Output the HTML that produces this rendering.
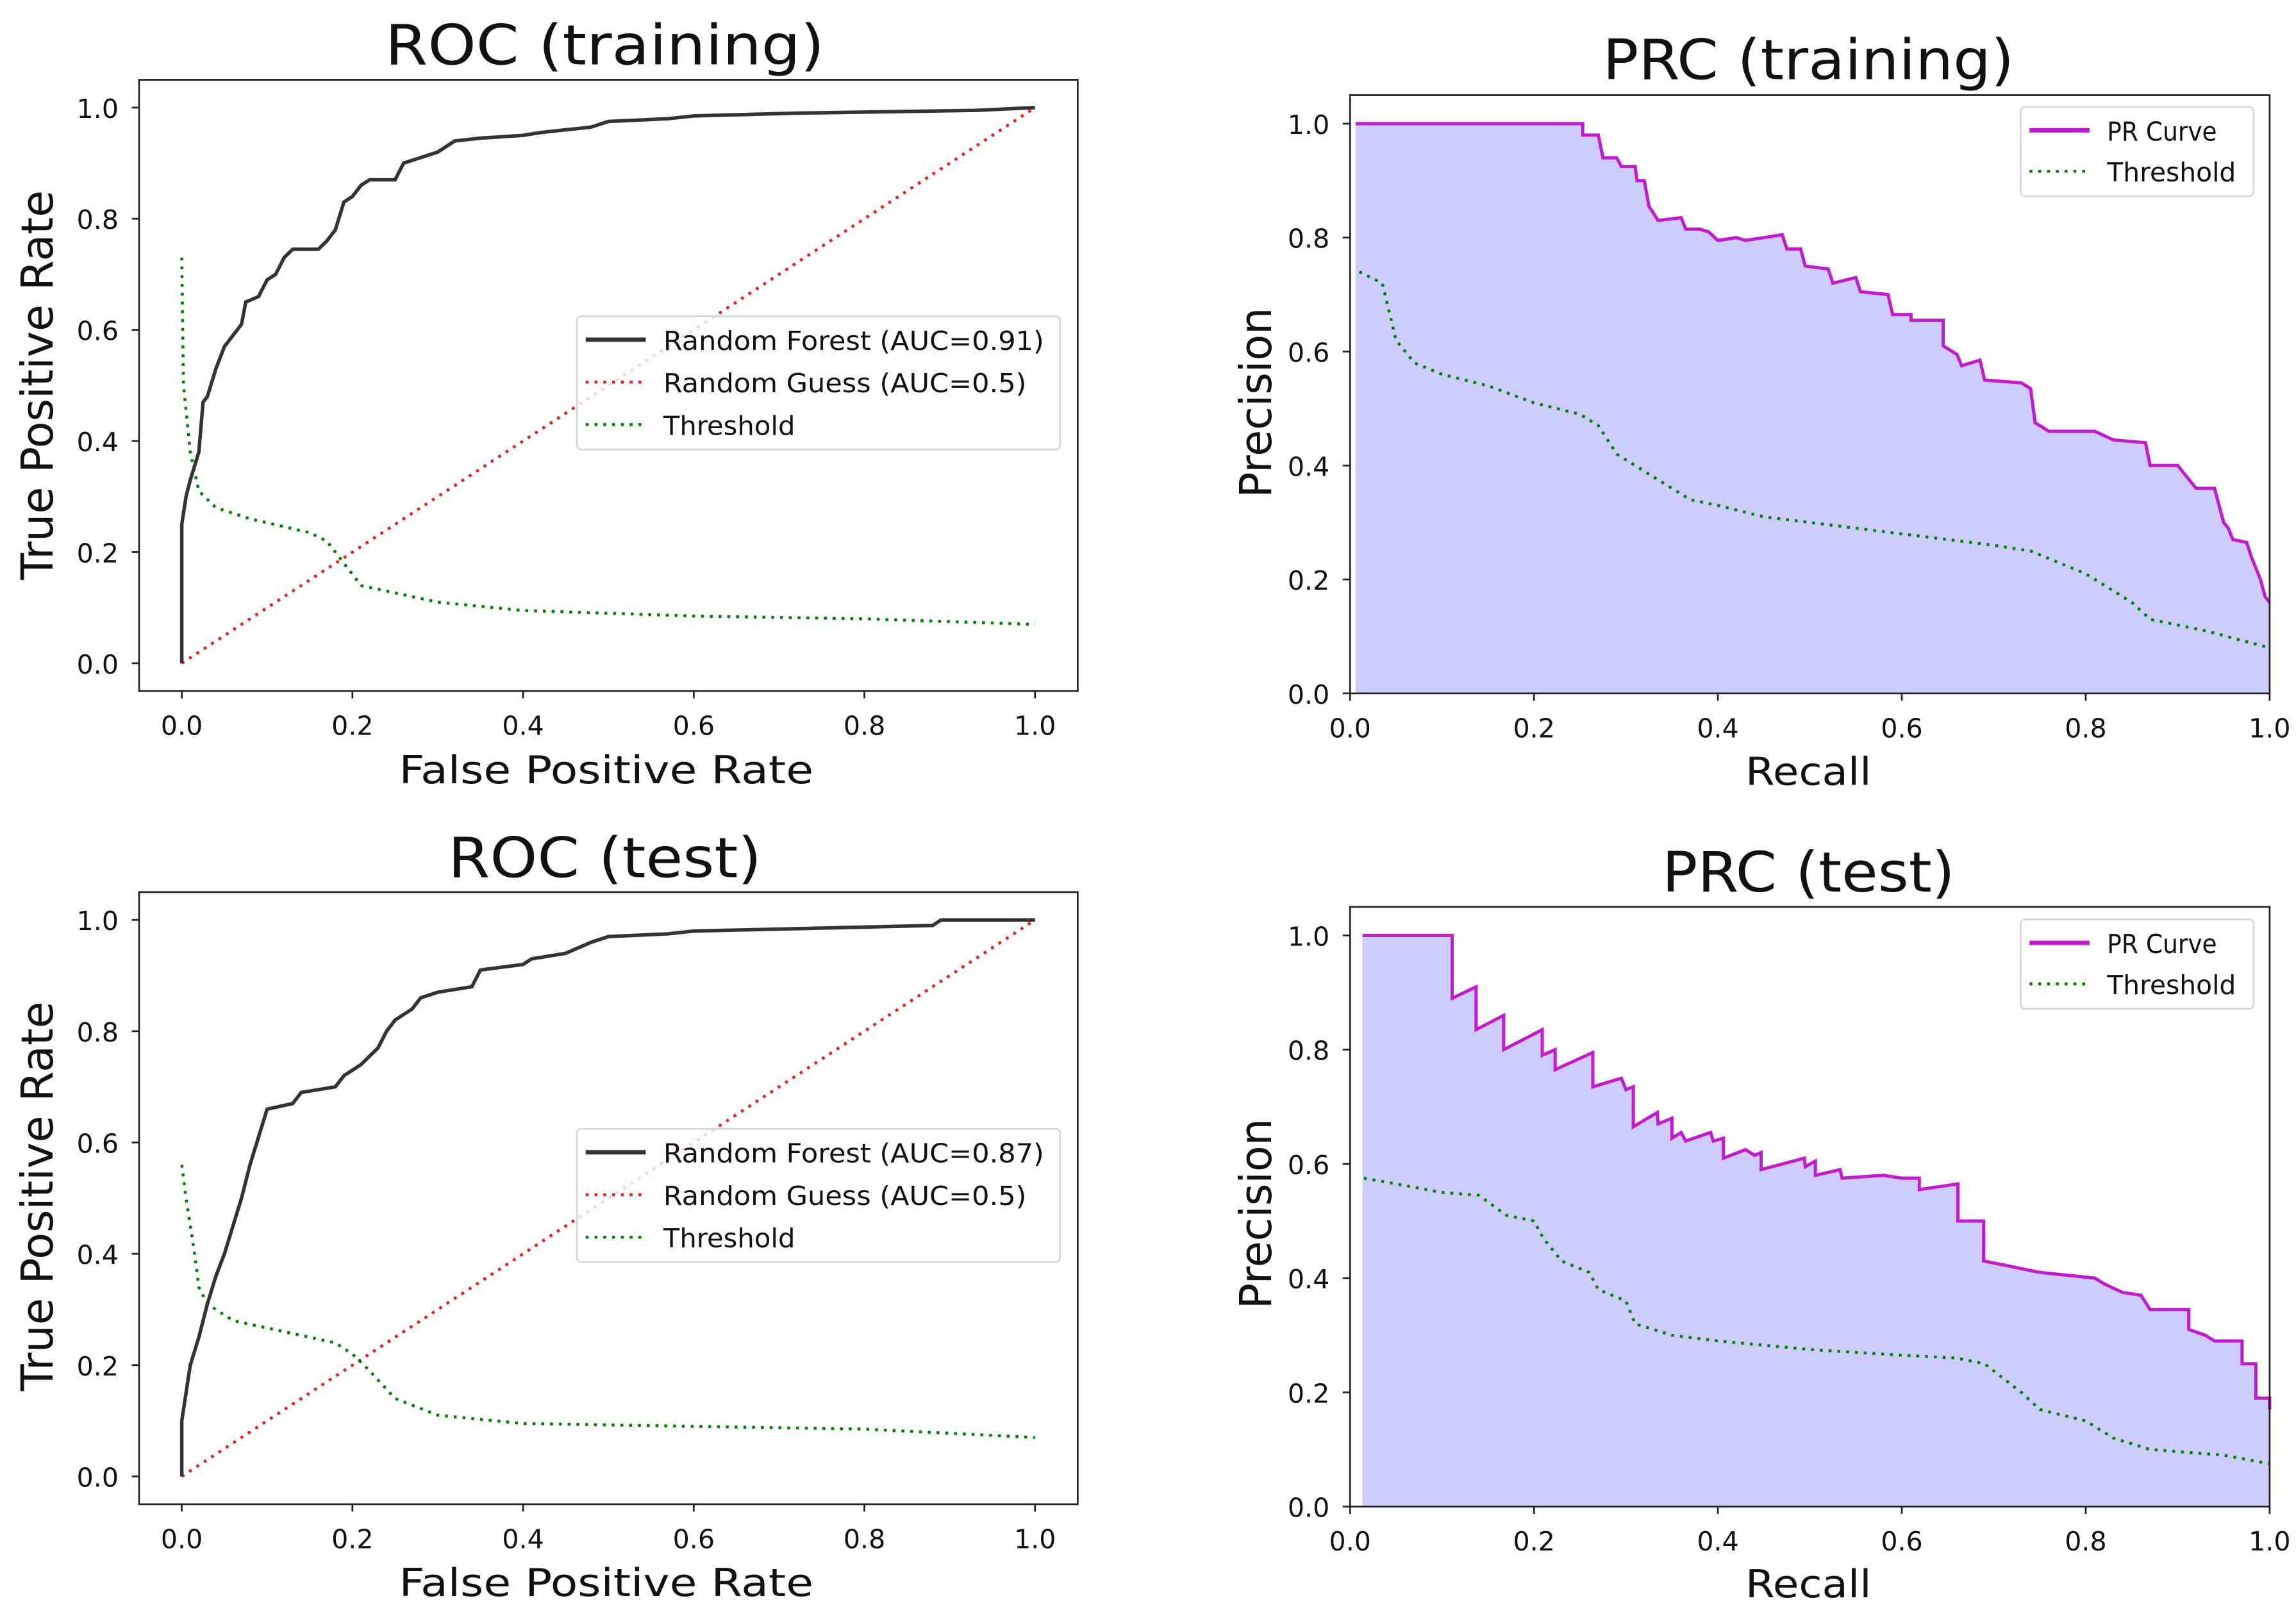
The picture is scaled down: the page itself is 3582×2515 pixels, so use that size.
<!DOCTYPE html>
<html><head><meta charset="utf-8">
<style>
html,body{margin:0;padding:0;background:#fff;}
svg{display:block;}
text{font-family:"DejaVu Sans","Liberation Sans",sans-serif;fill:#111;}
</style></head>
<body>
<svg id="fig" xmlns="http://www.w3.org/2000/svg" width="3582" height="2515" viewBox="0 0 1568 1101" preserveAspectRatio="none">
<rect x="0" y="0" width="1568" height="1101" fill="#fff"/>
</svg>
<script>
// ---- data ----
const rocTicks = [0, 0.2, 0.4, 0.6, 0.8, 1.0];
const tickLabels = ["0.0", "0.2", "0.4", "0.6", "0.8", "1.0"];

const rocTrainFpr = [0,0,0.005,0.01,0.02,0.025,0.03,0.04,0.05,0.06,0.07,0.075,0.09,0.1,0.11,0.12,0.13,0.16,0.17,0.18,0.19,0.2,0.21,0.22,0.25,0.26,0.28,0.3,0.31,0.32,0.35,0.4,0.42,0.45,0.48,0.5,0.57,0.6,0.72,0.93,1];
const rocTrainTpr = [0,0.25,0.3,0.33,0.38,0.47,0.48,0.53,0.57,0.59,0.61,0.65,0.66,0.69,0.70,0.73,0.745,0.745,0.76,0.78,0.83,0.84,0.86,0.87,0.87,0.9,0.91,0.92,0.93,0.94,0.945,0.95,0.955,0.96,0.965,0.975,0.98,0.985,0.99,0.995,1];
const rocTrainThrX = [0,0.002,0.01,0.02,0.04,0.08,0.15,0.17,0.2,0.21,0.3,0.4,0.6,0.8,1];
const rocTrainThrY = [0.73,0.5,0.38,0.31,0.28,0.26,0.235,0.22,0.16,0.14,0.11,0.095,0.085,0.08,0.07];

const rocTestFpr = [0,0,0.005,0.01,0.02,0.03,0.04,0.05,0.06,0.07,0.08,0.09,0.1,0.13,0.14,0.18,0.19,0.21,0.23,0.24,0.25,0.27,0.28,0.3,0.34,0.35,0.4,0.41,0.45,0.48,0.5,0.57,0.6,0.88,0.89,1];
const rocTestTpr = [0,0.1,0.15,0.2,0.25,0.31,0.36,0.4,0.45,0.5,0.56,0.61,0.66,0.67,0.69,0.7,0.72,0.74,0.77,0.8,0.82,0.84,0.86,0.87,0.88,0.91,0.92,0.93,0.94,0.96,0.97,0.975,0.98,0.99,1.0,1];
const rocTestThrX = [0,0.005,0.015,0.02,0.03,0.06,0.12,0.18,0.2,0.22,0.25,0.3,0.4,0.6,0.8,1];
const rocTestThrY = [0.56,0.5,0.4,0.34,0.31,0.28,0.26,0.24,0.22,0.19,0.14,0.11,0.095,0.09,0.085,0.07];

const prTrainRecall = [0.006,0.253,0.253,0.27,0.275,0.29,0.295,0.31,0.312,0.32,0.325,0.335,0.36,0.365,0.38,0.39,0.4,0.42,0.43,0.47,0.475,0.49,0.495,0.52,0.525,0.55,0.555,0.585,0.59,0.61,0.61,0.645,0.645,0.66,0.665,0.685,0.69,0.73,0.74,0.745,0.76,0.81,0.83,0.865,0.87,0.9,0.91,0.92,0.94,0.95,0.955,0.96,0.975,0.98,0.99,0.995,1.0];
const prTrainPrecision = [1,1,0.98,0.98,0.94,0.94,0.925,0.925,0.90,0.90,0.855,0.83,0.835,0.815,0.815,0.81,0.795,0.80,0.795,0.805,0.78,0.78,0.75,0.745,0.72,0.73,0.705,0.70,0.665,0.665,0.655,0.655,0.61,0.595,0.575,0.585,0.55,0.545,0.535,0.475,0.46,0.46,0.445,0.44,0.40,0.40,0.38,0.36,0.36,0.30,0.29,0.27,0.265,0.24,0.2,0.17,0.16];
const prTrainThrX = [0.01,0.035,0.05,0.07,0.1,0.15,0.2,0.25,0.27,0.29,0.33,0.37,0.4,0.45,0.5,0.6,0.7,0.74,0.8,0.85,0.87,0.93,1];
const prTrainThrY = [0.74,0.72,0.62,0.58,0.56,0.54,0.51,0.49,0.47,0.42,0.38,0.34,0.33,0.31,0.30,0.28,0.26,0.25,0.21,0.16,0.13,0.11,0.08];

const prTestRecall = [0.0135,0.111,0.111,0.137,0.137,0.167,0.167,0.209,0.209,0.223,0.223,0.264,0.264,0.295,0.30,0.308,0.308,0.334,0.335,0.35,0.35,0.36,0.365,0.392,0.395,0.406,0.406,0.43,0.44,0.447,0.447,0.494,0.495,0.506,0.506,0.533,0.535,0.58,0.6,0.619,0.619,0.661,0.661,0.689,0.689,0.72,0.75,0.78,0.81,0.82,0.84,0.86,0.87,0.912,0.912,0.93,0.94,0.97,0.97,0.985,0.985,1.0,1.0];
const prTestPrecision = [1,1,0.89,0.91,0.835,0.86,0.80,0.835,0.79,0.80,0.765,0.795,0.735,0.75,0.73,0.735,0.665,0.69,0.67,0.68,0.645,0.655,0.64,0.655,0.64,0.645,0.61,0.625,0.615,0.62,0.59,0.61,0.595,0.605,0.58,0.59,0.575,0.58,0.575,0.575,0.555,0.565,0.50,0.50,0.43,0.42,0.41,0.405,0.40,0.39,0.375,0.37,0.345,0.345,0.31,0.30,0.29,0.29,0.25,0.25,0.19,0.19,0.17];
const prTestThrX = [0.015,0.05,0.1,0.14,0.17,0.2,0.21,0.23,0.26,0.27,0.3,0.31,0.35,0.4,0.5,0.6,0.66,0.69,0.73,0.75,0.8,0.83,0.87,0.95,1];
const prTestThrY = [0.575,0.565,0.55,0.545,0.51,0.5,0.47,0.43,0.41,0.38,0.36,0.32,0.30,0.29,0.275,0.265,0.26,0.25,0.2,0.17,0.15,0.12,0.10,0.09,0.075];

// ---- drawing ----
const NS = "http://www.w3.org/2000/svg";
const svg = document.getElementById("fig");
function mk(tag, attrs, parent) {
  const e = document.createElementNS(NS, tag);
  for (const k in attrs) e.setAttribute(k, attrs[k]);
  (parent || svg).appendChild(e);
  return e;
}
function txt(s, attrs, parent) { const t = mk("text", attrs, parent); t.textContent = s; return t; }

function drawAxes(cfg) {
  const g = mk("g", {});
  
  
  const X = v => cfg.L + (v - cfg.xmin) / (cfg.xmax - cfg.xmin) * (cfg.R - cfg.L);
  const Y = v => cfg.B - (v - cfg.ymin) / (cfg.ymax - cfg.ymin) * (cfg.B - cfg.T);
  const poly = (xs, ys) => xs.map((x, i) => X(x).toFixed(2) + "," + Y(ys[i]).toFixed(2)).join(" ");
  if (cfg.fill) {
    const f = mk("polygon", {points: poly(cfg.fill.x, cfg.fill.y) + " " + X(cfg.fill.x[cfg.fill.x.length-1]) + "," + Y(0) + " " + X(cfg.fill.x[0]) + "," + Y(0), fill: "#ccccff", stroke: "none"}, g);
    
    
  }
  for (const s of cfg.series) {
    const p = mk("polyline", {points: poly(s.x, s.y), fill: "none", stroke: s.color, "stroke-width": s.w, "stroke-dasharray": s.dash || "none", "stroke-linejoin": "miter"}, g);
    
    
  }
  const box = mk("rect", {x: cfg.L, y: cfg.T, width: cfg.R - cfg.L, height: cfg.B - cfg.T, fill: "none", stroke: "#222", "stroke-width": 1.2}, g);
  
  
  rocTicks.forEach((v, i) => {
    mk("line", {x1: X(v), x2: X(v), y1: cfg.B, y2: cfg.B + 5, stroke: "#222", "stroke-width": 1.2}, g);
    const tx = txt(tickLabels[i], {x: X(v), y: cfg.B + 30, "font-size": 18, "text-anchor": "middle"}, g);
    
    
    mk("line", {x1: cfg.L - 5, x2: cfg.L, y1: Y(v), y2: Y(v), stroke: "#222", "stroke-width": 1.2}, g);
    const ty = txt(tickLabels[i], {x: cfg.L - 14, y: Y(v) + 7, "font-size": 18, "text-anchor": "end"}, g);
    
    
  });
  const tt = txt(cfg.title, {x: cfg.titleX, y: cfg.titleY, "font-size": 38, "text-anchor": "middle", textLength: cfg.titleW, lengthAdjust: "spacingAndGlyphs"}, g);
  
  
  const xl = txt(cfg.xlabel, {x: cfg.xlX, y: cfg.xlY, "font-size": 26, "text-anchor": "middle", textLength: cfg.xlW, lengthAdjust: "spacingAndGlyphs"}, g);
  
  
  const yl = txt(cfg.ylabel, {x: 0, y: 0, "font-size": 30, "text-anchor": "middle", textLength: cfg.ylW, lengthAdjust: "spacingAndGlyphs", transform: "translate(" + cfg.ylX + "," + cfg.ylY + ") rotate(-90)"}, g);
  
  
  const lg = mk("g", {}, g);
  
  
  const lb = cfg.legend;
  mk("rect", {x: lb.x, y: lb.y, width: lb.w, height: lb.h, rx: 3, fill: "rgba(255,255,255,0.8)", stroke: "#d6d6d6", "stroke-width": 1.2}, lg);
  lb.items.forEach((it, i) => {
    const yy = lb.y + lb.first + i * lb.step;
    mk("line", {x1: lb.x + 6, x2: lb.x + 47, y1: yy, y2: yy, stroke: it.color, "stroke-width": it.w, "stroke-dasharray": it.dash || "none"}, lg);
    const lt = txt(it.label, {x: lb.x + 59, y: yy + 7, "font-size": 18, textLength: it.tw, lengthAdjust: "spacingAndGlyphs"}, lg);
    
    
  });
}

const DOT = "2 4";
function rocCfg(T, B, title, titleY, titleW, fx, fy, tx, ty, auc, xlY, ylY, legY) {
  return {
    name: "roc-" + title.replace(/[^a-z]/gi, "").toLowerCase(),
    L: 95, R: 736, T: T, B: B, xmin: -0.05, xmax: 1.05, ymin: -0.05, ymax: 1.05,
    title: title, titleX: 413, titleY: titleY, titleW: titleW,
    xlabel: "False Positive Rate", xlX: 414, xlY: xlY, xlW: 283,
    ylabel: "True Positive Rate", ylX: 36, ylY: ylY, ylW: 266,
    series: [
      {name: "random-guess-line", x: [0, 1], y: [0, 1], color: "#e8201c", w: 2, dash: DOT},
      {name: "threshold-line", x: tx, y: ty, color: "#008000", w: 2, dash: DOT},
      {name: "random-forest-roc-line", x: fx, y: fy, color: "#333", w: 2.4}
    ],
    legend: {x: 394, y: legY, w: 330, h: 91, first: 16, step: 29, items: [
      {label: "Random Forest (AUC=" + auc + ")", color: "#333", w: 3, tw: 260},
      {label: "Random Guess (AUC=0.5)", color: "#e8201c", w: 2, dash: DOT, tw: 248},
      {label: "Threshold", color: "#008000", w: 2, dash: DOT, tw: 90}
    ]}
  };
}
function prCfg(T, B, title, titleX, titleY, titleW, rx, py, tx, ty, xlY, ylY, legY) {
  return {
    name: "prc-" + title.replace(/[^a-z]/gi, "").toLowerCase(),
    L: 922, R: 1550, T: T, B: B, xmin: 0, xmax: 1, ymin: 0, ymax: 1.05,
    title: title, titleX: titleX, titleY: titleY, titleW: titleW,
    xlabel: "Recall", xlX: 1235, xlY: xlY, xlW: 86,
    ylabel: "Precision", ylX: 868, ylY: ylY, ylW: 130,
    fill: {x: rx, y: py},
    series: [
      {name: "threshold-line", x: tx, y: ty, color: "#008000", w: 2, dash: DOT},
      {name: "pr-curve-line", x: rx, y: py, color: "#c21bce", w: 2.2}
    ],
    legend: {x: 1380, y: legY, w: 159, h: 61, first: 16, step: 28, items: [
      {label: "PR Curve", color: "#c21bce", w: 3, tw: 75},
      {label: "Threshold", color: "#008000", w: 2, dash: DOT, tw: 88}
    ]}
  };
}

drawAxes(rocCfg(54.5, 472, "ROC (training)", 44, 300, rocTrainFpr, rocTrainTpr, rocTrainThrX, rocTrainThrY, "0.91", 535, 263, 216));
drawAxes(rocCfg(609.3, 1027.4, "ROC (test)", 599, 214, rocTestFpr, rocTestTpr, rocTestThrX, rocTestThrY, "0.87", 1090, 817, 771));
drawAxes(prCfg(65, 473.6, "PRC (training)", 1235, 54, 281, prTrainRecall, prTrainPrecision, prTrainThrX, prTrainThrY, 536, 275, 73));
drawAxes(prCfg(619.4, 1029, "PRC (test)", 1235, 609, 200, prTestRecall, prTestPrecision, prTestThrX, prTestThrY, 1091, 829, 628));
</script>
</body></html>
